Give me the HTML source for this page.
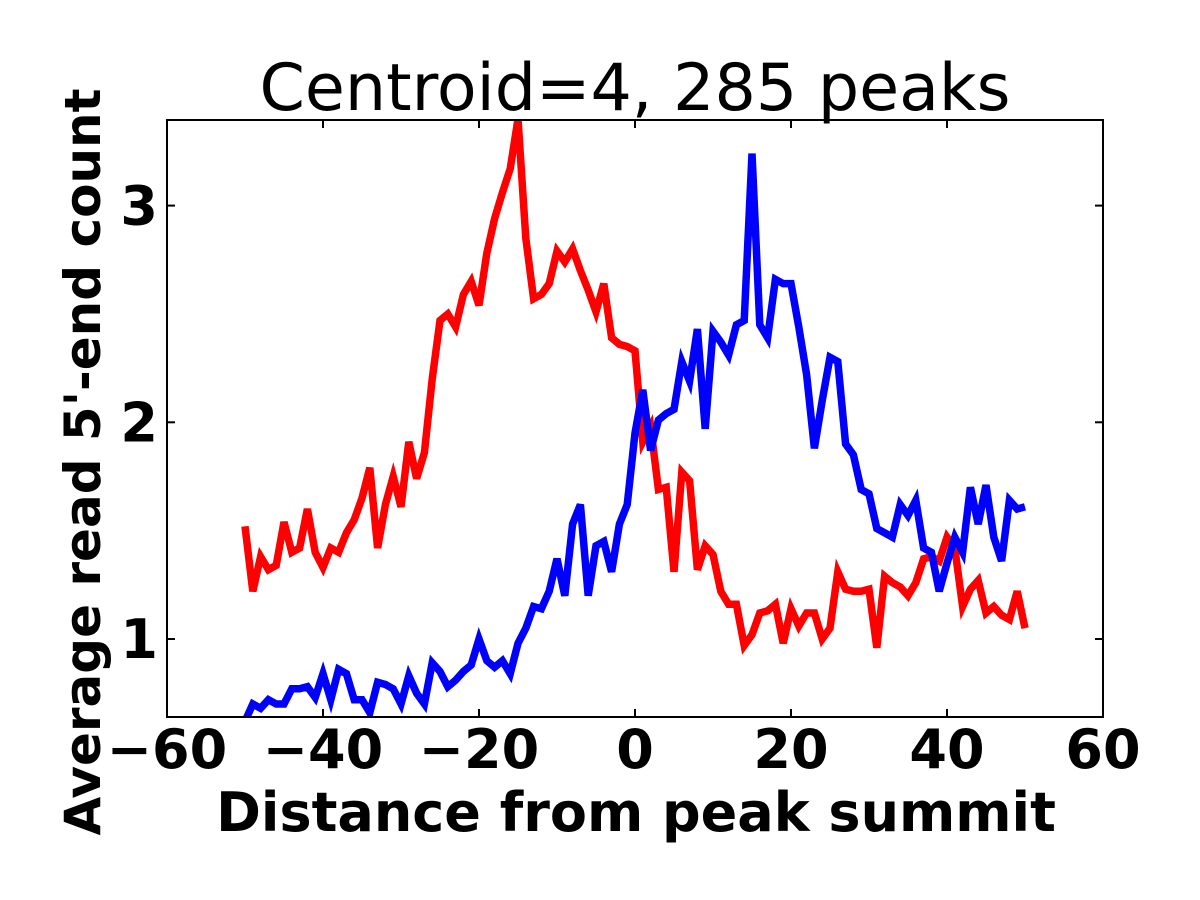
<!DOCTYPE html>
<html><head><meta charset="utf-8"><style>
body{margin:0;background:#fff}
svg{display:block;font-family:"DejaVu Sans","Liberation Sans",sans-serif}
</style></head><body>
<svg id="chart" width="1200" height="900" viewBox="0 0 1200 900">
<defs><clipPath id="pc"><rect x="167" y="120" width="936" height="597"/></clipPath></defs>
<text x="635" y="110" font-size="65" text-anchor="middle">Centroid=4, 285 peaks</text>
<g id="series" clip-path="url(#pc)"></g>
<rect x="167" y="120" width="936" height="597" fill="none" stroke="#000" stroke-width="2"/>
<g id="ticks"></g>
<text x="636" y="831" font-size="54" font-weight="bold" text-anchor="middle">Distance from peak summit</text>
<text transform="translate(100,462) rotate(-90)" font-size="50" font-weight="bold" text-anchor="middle">Average read 5'-end count</text>
</svg>
<script>
const xTicks=[-60,-40,-20,0,20,40,60];
const yTicks=[1,2,3];
const xTickLabels=["\u221260","\u221240","\u221220","0","20","40","60"];
const yTickLabels=["1","2","3"];
const positions=[-50,-49,-48,-47,-46,-45,-44,-43,-42,-41,-40,-39,-38,-37,-36,-35,-34,-33,-32,-31,-30,-29,-28,-27,-26,-25,-24,-23,-22,-21,-20,-19,-18,-17,-16,-15,-14,-13,-12,-11,-10,-9,-8,-7,-6,-5,-4,-3,-2,-1,0,1,2,3,4,5,6,7,8,9,10,11,12,13,14,15,16,17,18,19,20,21,22,23,24,25,26,27,28,29,30,31,32,33,34,35,36,37,38,39,40,41,42,43,44,45,46,47,48,49,50];
const redValues=[1.52,1.22,1.38,1.32,1.34,1.54,1.40,1.42,1.60,1.40,1.33,1.42,1.40,1.49,1.55,1.65,1.79,1.42,1.62,1.75,1.61,1.91,1.74,1.86,2.20,2.47,2.50,2.44,2.59,2.65,2.54,2.78,2.94,3.06,3.17,3.40,2.85,2.57,2.59,2.64,2.79,2.74,2.80,2.70,2.61,2.51,2.64,2.39,2.36,2.35,2.33,1.91,1.98,1.69,1.70,1.31,1.77,1.73,1.32,1.43,1.39,1.22,1.16,1.16,0.97,1.02,1.12,1.13,1.16,0.98,1.14,1.06,1.12,1.12,1.00,1.05,1.31,1.23,1.22,1.22,1.23,0.96,1.29,1.26,1.24,1.20,1.26,1.37,1.38,1.36,1.47,1.42,1.15,1.23,1.27,1.12,1.15,1.11,1.09,1.22,1.05];
const blueValues=[0.62,0.70,0.68,0.72,0.70,0.70,0.77,0.77,0.78,0.73,0.84,0.72,0.86,0.84,0.72,0.72,0.66,0.80,0.79,0.77,0.70,0.83,0.75,0.70,0.89,0.85,0.78,0.81,0.85,0.88,1.00,0.90,0.87,0.90,0.84,0.98,1.05,1.15,1.14,1.22,1.37,1.20,1.53,1.62,1.20,1.43,1.45,1.31,1.53,1.62,1.95,2.15,1.87,2.01,2.04,2.06,2.28,2.19,2.43,1.97,2.42,2.37,2.31,2.45,2.47,3.24,2.45,2.39,2.66,2.64,2.64,2.44,2.22,1.88,2.10,2.30,2.28,1.90,1.85,1.69,1.67,1.51,1.49,1.47,1.62,1.57,1.64,1.42,1.40,1.22,1.35,1.47,1.40,1.70,1.53,1.71,1.47,1.36,1.64,1.60,1.61];
const L=167,R=1103,T=120,B=717;
const xs=v=>L+(v+60)*(R-L)/120;
const ys=v=>639-(v-1)*216.7;
const NS="http://www.w3.org/2000/svg";
const series=document.getElementById('series');
function line(vals,color,name){
  const p=document.createElementNS(NS,'polyline');
  p.setAttribute('points',vals.map((v,i)=>xs(positions[i]).toFixed(1)+','+ys(v).toFixed(1)).join(' '));
  p.setAttribute('fill','none');p.setAttribute('stroke',color);p.setAttribute('stroke-width','7.5');
  p.setAttribute('stroke-linejoin','miter');
  
  
  series.appendChild(p);
}
line(redValues,'#ff0000','red-series-line');
line(blueValues,'#0000ff','blue-series-line');
const tk=document.getElementById('ticks');
function seg(x1,y1,x2,y2){const l=document.createElementNS(NS,'line');l.setAttribute('x1',x1);l.setAttribute('y1',y1);l.setAttribute('x2',x2);l.setAttribute('y2',y2);l.setAttribute('stroke','#000');l.setAttribute('stroke-width','2');


tk.appendChild(l);}
xTicks.forEach((v,i)=>{const x=xs(v);seg(x,B,x,B-8);seg(x,T,x,T+8);
 const t=document.createElementNS(NS,'text');t.setAttribute('x',x);t.setAttribute('y',768);t.setAttribute('font-size','54');t.setAttribute('font-weight','bold');t.setAttribute('text-anchor','middle');t.textContent=xTickLabels[i];
 
 
 tk.appendChild(t);});
yTicks.forEach((v,i)=>{const y=ys(v);seg(L,y,L+8,y);seg(R,y,R-8,y);
 const t=document.createElementNS(NS,'text');t.setAttribute('x',158);t.setAttribute('y',y+19);t.setAttribute('font-size','54');t.setAttribute('font-weight','bold');t.setAttribute('text-anchor','end');t.textContent=yTickLabels[i];
 
 
 tk.appendChild(t);});
</script>
</body></html>
